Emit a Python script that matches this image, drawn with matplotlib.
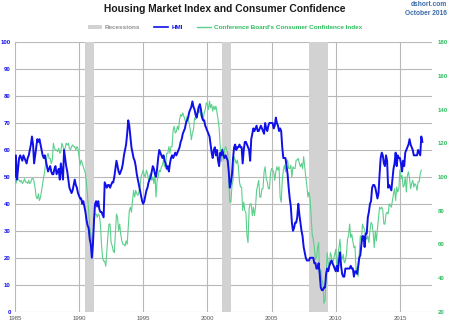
import numpy as np
import matplotlib
matplotlib.use("Agg")
import matplotlib.pyplot as plt
from matplotlib.lines import Line2D
from matplotlib.patches import Patch

# NAHB Housing Market Index, monthly from Jan 1985
hmi_by_year = {
    1985: [50, 58, 49, 53, 57, 58, 57, 56, 58, 57, 56, 55],
    1986: [57, 58, 60, 62, 65, 62, 55, 58, 61, 64, 63, 64],
    1987: [62, 60, 58, 57, 58, 56, 54, 52, 53, 54, 52, 51],
    1988: [51, 53, 54, 51, 52, 53, 49, 55, 52, 49, 60, 57],
    1989: [54, 52, 49, 46, 45, 44, 45, 47, 49, 47, 46, 44],
    1990: [43, 42, 42, 40, 41, 39, 37, 34, 32, 31, 27, 25],
    1991: [20, 25, 34, 40, 41, 39, 41, 38, 37, 37, 36, 35],
    1992: [48, 47, 46, 47, 47, 46, 47, 48, 48, 50, 53, 56],
    1993: [54, 52, 51, 52, 53, 55, 58, 60, 62, 66, 71, 69],
    1994: [65, 61, 59, 57, 56, 54, 51, 49, 47, 45, 43, 41],
    1995: [40, 41, 43, 45, 46, 48, 49, 50, 52, 54, 53, 51],
    1996: [50, 53, 57, 60, 59, 58, 57, 58, 56, 55, 53, 54],
    1997: [52, 55, 57, 58, 57, 58, 59, 58, 59, 60, 61, 63],
    1998: [64, 66, 67, 68, 70, 71, 72, 74, 75, 76, 78, 76],
    1999: [75, 73, 72, 74, 76, 77, 75, 72, 71, 71, 69, 68],
    2000: [67, 66, 65, 62, 59, 57, 60, 61, 58, 60, 56, 54],
    2001: [59, 58, 60, 58, 57, 58, 57, 56, 52, 46, 48, 51],
    2002: [57, 61, 62, 60, 61, 61, 62, 61, 61, 55, 60, 63],
    2003: [63, 62, 61, 60, 56, 64, 66, 68, 67, 68, 69, 67],
    2004: [67, 68, 69, 68, 67, 66, 70, 68, 67, 69, 70, 70],
    2005: [70, 70, 68, 69, 72, 70, 69, 67, 68, 67, 61, 57],
    2006: [57, 57, 54, 51, 46, 42, 39, 33, 30, 31, 33, 33],
    2007: [35, 40, 36, 33, 30, 28, 24, 22, 20, 19, 19, 19],
    2008: [20, 20, 20, 20, 18, 18, 16, 16, 18, 14, 9, 8],
    2009: [8, 9, 9, 14, 16, 15, 17, 18, 19, 18, 17, 16],
    2010: [15, 17, 15, 19, 22, 17, 14, 13, 13, 16, 16, 16],
    2011: [16, 16, 17, 16, 16, 13, 15, 15, 14, 17, 20, 21],
    2012: [25, 28, 28, 24, 29, 29, 35, 37, 40, 41, 46, 47],
    2013: [47, 46, 44, 42, 44, 51, 57, 59, 58, 55, 54, 58],
    2014: [56, 46, 47, 46, 45, 49, 53, 55, 59, 54, 58, 57],
    2015: [57, 55, 52, 56, 54, 59, 60, 61, 62, 64, 62, 61],
    2016: [60, 58, 58, 58, 58, 60, 59, 58, 65, 63],
}

# Conference Board Consumer Confidence Index (1985=100), monthly from Jan 1985
cci_by_year = {
    1985: [100, 96, 99, 99, 98, 97, 98, 96, 97, 99, 97, 97],
    1986: [96, 98, 96, 97, 99, 99, 97, 93, 88, 87, 90, 86],
    1987: [88, 92, 96, 100, 104, 109, 112, 114, 111, 111, 108, 110],
    1988: [120, 117, 116, 116, 115, 117, 114, 115, 120, 118, 116, 117],
    1989: [120, 119, 120, 117, 116, 118, 119, 118, 118, 116, 118, 117],
    1990: [112, 107, 110, 108, 106, 104, 102, 96, 88, 80, 70, 66],
    1991: [62, 60, 76, 78, 78, 76, 78, 77, 72, 60, 52, 50],
    1992: [50, 47, 56, 65, 72, 72, 61, 59, 56, 55, 66, 78],
    1993: [76, 68, 72, 66, 62, 60, 60, 59, 62, 60, 70, 80],
    1994: [82, 79, 86, 92, 88, 92, 90, 89, 91, 94, 100, 102],
    1995: [104, 101, 100, 104, 102, 98, 101, 102, 98, 100, 96, 102],
    1996: [88, 98, 100, 104, 103, 106, 107, 110, 106, 108, 114, 114],
    1997: [118, 114, 118, 118, 128, 130, 126, 127, 130, 128, 134, 137],
    1998: [136, 138, 136, 134, 132, 136, 134, 132, 128, 122, 126, 128],
    1999: [135, 134, 136, 141, 138, 140, 136, 138, 134, 138, 140, 144],
    2000: [143, 140, 145, 141, 143, 139, 142, 140, 142, 138, 134, 129],
    2001: [118, 109, 117, 110, 116, 118, 116, 114, 97, 85, 85, 95],
    2002: [98, 112, 110, 108, 110, 106, 97, 94, 94, 80, 85, 80],
    2003: [79, 65, 61, 81, 84, 84, 77, 82, 77, 82, 92, 95],
    2004: [98, 88, 88, 93, 93, 103, 106, 99, 97, 93, 93, 102],
    2005: [105, 104, 103, 98, 103, 106, 104, 106, 88, 85, 98, 104],
    2006: [107, 103, 108, 110, 105, 105, 107, 100, 106, 105, 105, 110],
    2007: [110, 111, 108, 106, 108, 105, 112, 106, 100, 95, 88, 91],
    2008: [87, 76, 66, 63, 58, 51, 52, 58, 61, 39, 45, 39],
    2009: [37, 25, 27, 41, 55, 49, 47, 55, 53, 49, 51, 54],
    2010: [57, 46, 52, 58, 63, 53, 51, 54, 49, 50, 54, 63],
    2011: [65, 72, 64, 66, 62, 58, 59, 45, 46, 41, 55, 65],
    2012: [62, 72, 70, 69, 64, 63, 65, 61, 68, 73, 72, 67],
    2013: [58, 68, 62, 69, 76, 82, 81, 82, 80, 72, 72, 78],
    2014: [79, 78, 84, 83, 82, 86, 90, 93, 86, 94, 91, 93],
    2015: [104, 99, 101, 94, 95, 100, 91, 101, 103, 99, 93, 96],
    2016: [98, 94, 96, 95, 92, 97, 97, 102, 104],
}

recession_starts = [1990.5, 2001.17, 2007.92]
recession_ends = [1991.17, 2001.84, 2009.42]

year_ticks = [1985, 1990, 1995, 2000, 2005, 2010, 2015]
hmi_ticks = list(range(0, 101, 10))
cci_ticks = list(range(20, 181, 20))

BLUE = "#1010e8"
GREEN = "#5ccf8c"
GREEN_TXT = "#2ebd5f"
GRID = "#b8b8b8"
BAND = "#d2d2d2"


def monthly(series):
    vals = []
    for yr in sorted(series):
        vals.extend(series[yr])
    t = 1985 + np.arange(len(vals)) / 12.0
    return t, np.array(vals, dtype=float)


hmi_t, hmi = monthly(hmi_by_year)
cci_t, cci = monthly(cci_by_year)

plt.rcParams["font.family"] = ["Liberation Sans", "DejaVu Sans"]

fig = plt.figure(figsize=(4.5, 3.24), dpi=100)
ax = fig.add_axes([0.033, 0.038, 0.927, 0.832])
ax2 = ax.twinx()

ax.set_xlim(1985, 2017.5)
ax.set_ylim(0, 100)
ax2.set_ylim(20, 180)

ax.set_xticks(year_ticks)
ax.set_yticks(hmi_ticks)
ax2.set_yticks(cci_ticks)
ax.grid(True, color=GRID, lw=0.8, zorder=0)
ax.set_axisbelow(True)

for s, e in zip(recession_starts, recession_ends):
    ax.axvspan(s, e, color=BAND, lw=0, zorder=1)

for a in (ax, ax2):
    for sp in a.spines.values():
        sp.set_visible(False)
ax.tick_params(length=0, labelsize=4.3)
ax.tick_params(axis="x", colors="#555555", pad=3)
ax.tick_params(axis="y", colors=BLUE, pad=3)
ax2.tick_params(length=0, labelsize=4.3, colors=GREEN_TXT, pad=4)
for lbl in ax.get_xticklabels():
    lbl.set_color("#555555")
for lbl in ax.get_yticklabels() + ax2.get_yticklabels():
    lbl.set_fontweight("bold")

# keep both lines in the front axes, the confidence line uses the right-hand scale
ax.plot(cci_t, cci, color=GREEN, lw=0.8, zorder=3, transform=ax2.transData)
ax.plot(hmi_t, hmi, color=BLUE, lw=1.4, zorder=4)
ax.set_zorder(ax2.get_zorder() + 1)
ax.patch.set_visible(False)
ax.set_xlim(1985, 2017.5)
ax.set_ylim(0, 100)

fig.text(0.5, 0.972, "Housing Market Index and Consumer Confidence",
         ha="center", va="center", fontsize=7.4, fontweight="bold", color="#1a1a1a")
fig.text(0.993, 0.987, "dshort.com", ha="right", va="center",
         fontsize=4.8, fontweight="bold", color="#3a6aa8")
fig.text(0.993, 0.958, "October 2016", ha="right", va="center",
         fontsize=4.8, fontweight="bold", color="#3a6aa8")

handles = [
    Patch(facecolor=BAND, edgecolor="none"),
    Line2D([], [], color=BLUE, lw=1.2),
    Line2D([], [], color=GREEN, lw=1.0),
]
labels = ["Recessions", "HMI", "Conference Board's Consumer Confidence Index"]
leg = fig.legend(handles, labels, loc="center", bbox_to_anchor=(0.5, 0.915),
                 ncol=3, frameon=False, fontsize=4.6, handlelength=2.2,
                 handleheight=0.6, columnspacing=2.2, handletextpad=0.5)
for txt, col in zip(leg.get_texts(), ["#909090", BLUE, GREEN_TXT]):
    txt.set_color(col)
    txt.set_fontweight("bold")

fig.savefig("out.png", dpi=100)
